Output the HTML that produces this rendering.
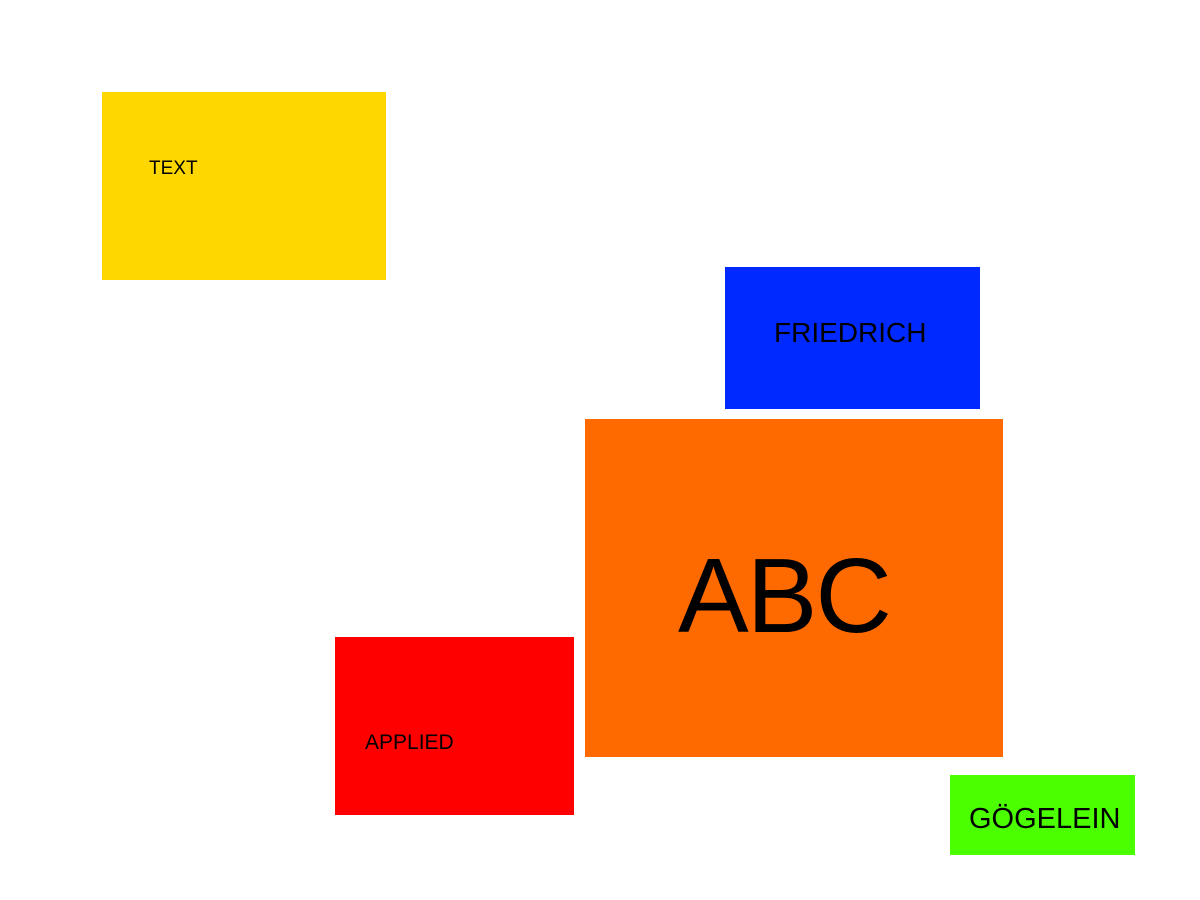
<!DOCTYPE html>
<html><head><style>
body{margin:0;width:1200px;height:900px;background:#fff;position:relative;overflow:hidden;font-family:"Liberation Sans","DejaVu Sans",sans-serif;}
div.b{position:absolute;}
span{position:absolute;color:#000;white-space:nowrap;}
</style></head><body>
<div class="b" style="left:102px;top:92px;width:284px;height:188px;background:#FFD700"></div>
<span style="left:149px;top:158px;font-size:19px">TEXT</span>
<div class="b" style="left:725px;top:267px;width:255px;height:142px;background:#0029FF"></div>
<span style="left:774px;top:317px;font-size:28px">FRIEDRICH</span>
<div class="b" style="left:585px;top:419px;width:418px;height:338px;background:#FF6A00"></div>
<span style="left:678px;top:536px;font-size:106px;line-height:120px;letter-spacing:-2px">ABC</span>
<div class="b" style="left:335px;top:637px;width:239px;height:178px;background:#FF0000"></div>
<span style="left:365px;top:731px;font-size:21px">APPLIED</span>
<div class="b" style="left:950px;top:775px;width:185px;height:80px;background:#4CFF00"></div>
<span style="left:969px;top:803px;font-size:29px">GÖGELEIN</span>
</body></html>
